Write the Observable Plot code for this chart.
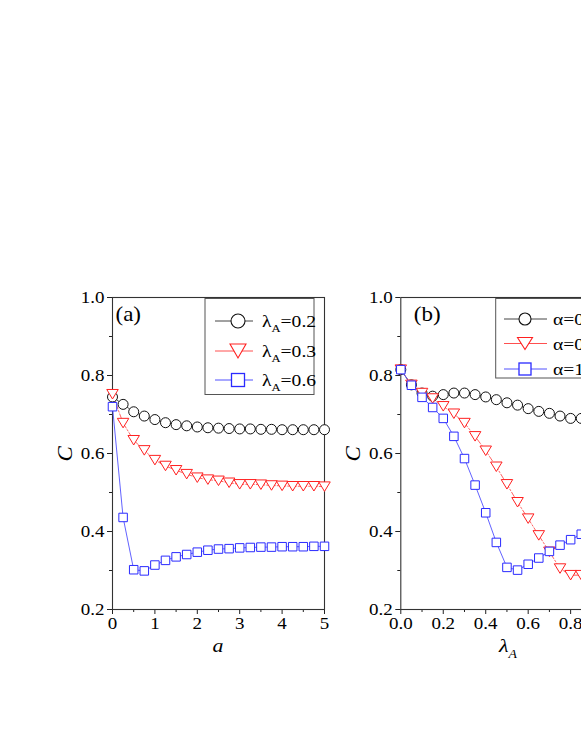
<!DOCTYPE html>
<html><head><meta charset="utf-8">
<script src="https://cdn.jsdelivr.net/npm/d3@7"></script>
<script src="https://cdn.jsdelivr.net/npm/@observablehq/plot@0.6"></script>
<style>
body{margin:0;background:#fff;width:581px;height:752px;overflow:hidden;position:relative;}
.panel{position:absolute;top:0;}
.panel svg{max-width:none !important;}
</style></head><body>
<div id="pa" class="panel" style="left:0px;width:340px"></div>
<div id="pb" class="panel" style="left:340px;width:300px"></div>
<script>
// ---------- data ----------
const aX = [0,0.25,0.5,0.75,1,1.25,1.5,1.75,2,2.25,2.5,2.75,3,3.25,3.5,3.75,4,4.25,4.5,4.75,5];
const aLam02 = [0.745,0.726,0.707,0.696,0.687,0.679,0.674,0.671,0.668,0.666,0.665,0.664,0.663,0.663,0.662,0.662,0.661,0.661,0.661,0.661,0.661];
const aLam03 = [0.752,0.678,0.634,0.608,0.583,0.568,0.557,0.547,0.538,0.533,0.530,0.525,0.521,0.521,0.520,0.518,0.517,0.516,0.516,0.516,0.515];
const aLam06 = [0.720,0.436,0.302,0.299,0.314,0.326,0.335,0.341,0.347,0.352,0.355,0.356,0.358,0.359,0.360,0.360,0.361,0.361,0.361,0.362,0.362];
const aLabels = ["=0.2","=0.3","=0.6"];

const bX = [0,0.05,0.1,0.15,0.2,0.25,0.3,0.35,0.4,0.45,0.5,0.55,0.6,0.65,0.7,0.75,0.8,0.85];
const bAlpha1 = [0.815,0.776,0.755,0.747,0.751,0.755,0.755,0.751,0.745,0.738,0.730,0.724,0.715,0.708,0.703,0.696,0.690,0.690];
const bAlpha2 = [0.815,0.776,0.755,0.741,0.721,0.702,0.678,0.644,0.607,0.566,0.521,0.475,0.433,0.390,0.348,0.305,0.288,0.288];
const bAlpha3 = [0.815,0.775,0.744,0.718,0.690,0.644,0.587,0.519,0.448,0.372,0.308,0.301,0.316,0.332,0.349,0.365,0.379,0.393];
const bLabels = ["=0.2","=0.5","=1.0"];

const yTicks = [0.2,0.4,0.6,0.8,1.0];
const yMinor = [0.3,0.5,0.7,0.9];
const aXTicks = [0,1,2,3,4,5];
const aXMinor = [0.5,1.5,2.5,3.5,4.5];
const bXTicks = [0,0.2,0.4,0.6,0.8,1.0];
const bXMinor = [0.1,0.3,0.5,0.7,0.9];

// ---------- styles ----------
const FONT = "Liberation Serif, Times New Roman, serif";
const BLACK = "#111", RED = "#ff2020", BLUE = "#2a2aff";
const RED_LINE = "#ff5050", BLUE_LINE = "#5050ff", BLACK_LINE = "#444";

const triDown = {draw(ctx, size){
  const r = Math.sqrt(size/Math.PI); const w = r*1.15, h = r*1.9;
  ctx.moveTo(-w,-h/2); ctx.lineTo(w,-h/2); ctx.lineTo(0,h/2); ctx.closePath();
}};

function rows(xs, ys){ return xs.map((x,i)=>({x, y: ys[i]})); }

function makePanel(cfg){
  const s1 = rows(cfg.xs, cfg.s[0]), s2 = rows(cfg.xs, cfg.s[1]), s3 = rows(cfg.xs, cfg.s[2]);
  const fmt = d3.format(".1f");
  return Plot.plot({
    width: cfg.width, height: 700,
    marginLeft: cfg.ml, marginRight: cfg.mr, marginTop: 297, marginBottom: 91,
    x: {domain: cfg.xDomain},
    y: {domain: [0.2, 1.0]},
    style: {fontFamily: FONT, fontSize: "16.5px", color: "#000", background: "transparent", overflow: "visible", maxWidth: "none"},
    marks: [
      Plot.axisY(yTicks, {tickSize: 5, tickPadding: 3, tickFormat: fmt, label: null, stroke: "#222"}),
      Plot.axisY(yMinor, {tickSize: 3, tickFormat: () => "", label: null, stroke: "#222"}),
      Plot.axisX(cfg.xTicks, {tickSize: 5, tickPadding: 3, tickFormat: cfg.xFmt, label: null, stroke: "#222"}),
      Plot.axisX(cfg.xMinor, {tickSize: 3, tickFormat: () => "", label: null, stroke: "#222"}),
      Plot.frame({stroke: "#333", strokeWidth: 1.1}),
      Plot.line(s1, {x: "x", y: "y", stroke: BLACK_LINE, strokeWidth: 0.9}),
      Plot.line(s2, {x: "x", y: "y", stroke: RED_LINE, strokeWidth: 0.9, strokeDasharray: "5,2,1.5,2"}),
      Plot.line(s3, {x: "x", y: "y", stroke: BLUE_LINE, strokeWidth: 0.9}),
      Plot.dot(s1, {x: "x", y: "y", r: 5, stroke: BLACK, fill: "white", strokeWidth: 1}),
      Plot.dot(s2, {x: "x", y: "y", r: 5, symbol: triDown, stroke: RED, fill: "white", strokeWidth: 1}),
      Plot.dot(s3, {x: "x", y: "y", r: 4.8, symbol: "square", stroke: BLUE, fill: "white", strokeWidth: 1}),
      Plot.text([cfg.tag], {frameAnchor: "top-left", dx: cfg.tagDx, dy: 9, fontSize: 20, textAnchor: "start", lineAnchor: "top"}),
      Plot.text(["C"], {frameAnchor: "left", dx: -47, dy: 8, rotate: -90, fontStyle: "italic", fontSize: 20})
    ]
  });
}

function stretch(svg){
  d3.select(svg).selectAll("text").each(function(){
    const t = this.getAttribute("transform") || "";
    this.setAttribute("transform", t + " scale(1.15,1)");
  });
}

function marker(g, type, cx, cy, sz, color){
  if (type === "circle") g.append("circle").attr("cx", cx).attr("cy", cy).attr("r", sz.r).attr("fill","white").attr("stroke", color).attr("stroke-width",1.1);
  if (type === "tri") g.append("path").attr("d", `M${cx-sz.tw/2},${cy-sz.th/2}L${cx+sz.tw/2},${cy-sz.th/2}L${cx},${cy+sz.th/2}Z`).attr("fill","white").attr("stroke", color).attr("stroke-width",1.1);
  if (type === "sq") g.append("rect").attr("x", cx-sz.s/2).attr("y", cy-sz.s/2).attr("width", sz.s).attr("height", sz.s).attr("fill","white").attr("stroke", color).attr("stroke-width",1.3);
}

function legend(svg, L){
  const g = d3.select(svg).append("g").attr("text-anchor", "start");
  g.append("rect").attr("x", L.x).attr("y", L.y).attr("width", L.w).attr("height", L.h).attr("fill","white").attr("stroke","#555").attr("stroke-width",1);
  const types = ["circle","tri","sq"], cols = [BLACK, RED, BLUE], lcols = [BLACK_LINE, RED_LINE, BLUE_LINE];
  L.labels.forEach((lab, i) => {
    const y = L.rows[i];
    g.append("line").attr("x1", L.l1).attr("x2", L.l2).attr("y1", y).attr("y2", y).attr("stroke", lcols[i]).attr("stroke-width", 1);
    marker(g, types[i], L.mx, y, L.sz, cols[i]);
    const t = g.append("text").attr("transform", `translate(${L.tx},${y+6}) scale(1.15,1)`)
      .attr("text-anchor", "start").attr("font-family", FONT).attr("font-size", 17).attr("fill", "#000");
    t.append("tspan").text(L.sym);
    if (L.sub) {
      t.append("tspan").attr("font-size", 11).attr("dy", 5).text(L.sub);
      t.append("tspan").attr("dy", -5).text(lab);
    } else t.append("tspan").text(lab);
  });
}

function xLabel(svg, cx, parts){
  const t = d3.select(svg).append("text").attr("transform", `translate(${cx},652) scale(1.15,1)`)
    .attr("text-anchor","middle").attr("font-family", FONT).attr("font-style","italic").attr("font-size", 19).attr("fill","#000");
  t.append("tspan").text(parts[0]);
  if (parts[1]) t.append("tspan").attr("font-size", 12).attr("dy", 6).text(parts[1]);
}

// Panel (a)
const svgA = makePanel({xs: aX, s: [aLam02, aLam03, aLam06], xDomain: [0,5], xTicks: aXTicks, xMinor: aXMinor,
  xFmt: d3.format("d"), width: 340, ml: 112, mr: 16, tag: "(a)", tagDx: 3});
stretch(svgA);
legend(svgA, {x: 205, y: 298.5, w: 109, h: 96, rows: [321, 351, 380], l1: 215, l2: 253, mx: 238, tx: 262,
  sz: {r: 7, tw: 16, th: 14, s: 13}, sym: "λ", sub: "A", labels: aLabels});
xLabel(svgA, 218, ["a"]);
document.getElementById("pa").appendChild(svgA);

// Panel (b)
const svgB = makePanel({xs: bX, s: [bAlpha1, bAlpha2, bAlpha3], xDomain: [0,1], xTicks: bXTicks, xMinor: bXMinor,
  xFmt: d3.format(".1f"), width: 300, ml: 60.3, mr: 27.4, tag: "(b)", tagDx: 13});
stretch(svgB);
legend(svgB, {x: 155.7, y: 298.5, w: 200, h: 79.5, rows: [319, 343.5, 369], l1: 164, l2: 207, mx: 185, tx: 213,
  sz: {r: 6, tw: 15, th: 12, s: 12}, sym: "α", sub: null, labels: bLabels});
xLabel(svgB, 168, ["λ", "A"]);
document.getElementById("pb").appendChild(svgB);
</script></body></html>
